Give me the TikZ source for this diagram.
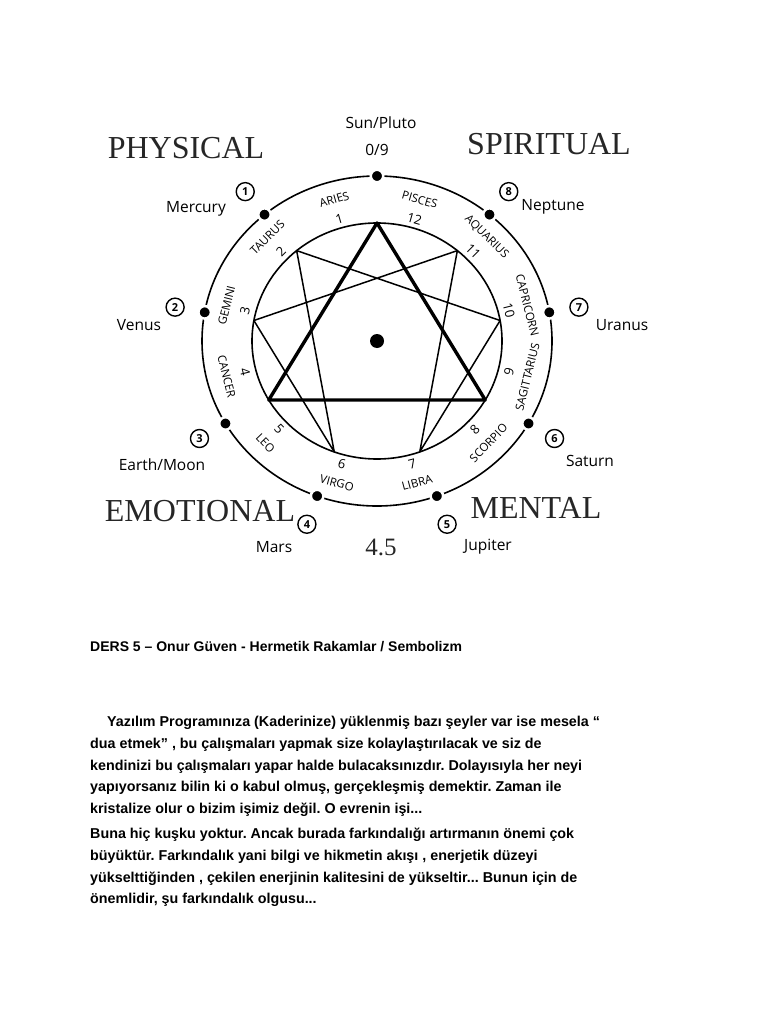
\documentclass[tikz,border=0pt]{standalone}
\usepackage{fontspec}
\setmainfont{Liberation Serif}
\setsansfont{Liberation Sans}
\newfontfamily\handfont{Open Sans}
\usetikzlibrary{positioning}
\frenchspacing

\tikzset{
  ring/.style={line width=1.6},
  dot/.style={circle, fill=black, draw=white, line width=2.5, minimum size=12.5, inner sep=0},
  sign/.style={font=\handfont\fontsize{11.5}{13}\selectfont, inner sep=0},
  house/.style={font=\handfont\fontsize{13}{15}\selectfont, inner sep=0},
  planet/.style={font=\handfont\fontsize{15.5}{17}\selectfont, inner sep=0},
  disc/.style={circle, draw, line width=1.4, minimum size=18, inner sep=0, font=\handfont\bfseries\fontsize{11}{12}\selectfont},
  realm/.style={font=\fontsize{32}{36}\selectfont, text=black!85, inner sep=0},
  para/.style={anchor=base west, inner sep=0, font=\sffamily\bfseries\fontsize{14.3}{16}\selectfont}
}

\begin{document}
\begin{tikzpicture}[x=1pt, y=1pt]
\useasboundingbox (0,0) rectangle (768,-1024);

\begin{scope}[shift={(377,-341)}]
\draw[ring] (0,0) ellipse [x radius=175, y radius=165];
\draw[ring] (0,0) ellipse [x radius=125, y radius=118];
\foreach \k in {0,...,8}
    \coordinate (e\k) at ({90-40*\k}:125 and 118);
\draw[line width=3.4, line join=round] (e0) -- (e3) -- (e6) -- cycle;
\draw[line width=1.5, line join=round] (e1) -- (e4) -- (e2) -- (e8) -- (e5) -- (e7) -- cycle;
\node[dot, minimum size=14, draw=none] (hub) at (0,0) {};

\foreach \sign/\t [count=\i] in {
    ARIES/106, TAURUS/135, GEMINI/166, CANCER/194, LEO/224, VIRGO/255,
    LIBRA/285, SCORPIO/316, SAGITTARIUS/346, CAPRICORN/14, AQUARIUS/45, PISCES/74
} {
    \pgfmathsetmacro{\rot}{\t<180 ? \t-90 : \t+90}
    \node[sign, rotate=\rot] (z\i) at (\t:155 and 147) {\sign};
    \node[house, rotate=\rot] (h\i) at (\t:136 and 127) {\i};
}

\node[dot] (d0) at (90:175 and 165) {};
\node[planet] (p0) at (4,218) {Sun/Pluto};
\node[planet] (n0) at (0,191) {0/9};
\foreach \k/\nm/\px/\py in {
    1/Mercury/-181/132, 2/Venus/-238/16, 3/{Earth/Moon}/-215/-124, 4/Mars/-103/-206,
    5/Jupiter/111/-206, 6/Saturn/213/-120, 7/Uranus/245/16, 8/Neptune/176/134
} {
    \node[dot] (d\k) at ({90+40*\k}:175 and 165) {};
    \node[disc] (c\k) at ({90+40*\k}:205 and 195) {\k};
    \node[planet] (p\k) at (\px,\py) {\nm};
}

\node[realm] (physical) at (-191,193) {PHYSICAL};
\node[realm] (spiritual) at (172,197) {SPIRITUAL};
\node[realm] (emotional) at (-177,-170) {EMOTIONAL};
\node[realm] (mental) at (159,-167) {MENTAL};
\node[realm, font=\fontsize{25}{28}\selectfont] (half) at (4,-206) {4.5};
\end{scope}

\node[para, font=\sffamily\bfseries\fontsize{14}{16}\selectfont] (t0) at (90,-651) {DERS 5 – Onur Güven - Hermetik Rakamlar / Sembolizm};
\node[para] (t1) at (107,-726) {Yazılım Programınıza (Kaderinize) yüklenmiş bazı şeyler var ise mesela “};
\node[para] (t2) at (90,-748) {dua etmek” , bu çalışmaları yapmak size kolaylaştırılacak ve siz de};
\node[para] (t3) at (90,-770) {kendinizi bu çalışmaları yapar halde bulacaksınızdır. Dolayısıyla her neyi};
\node[para] (t4) at (90,-791) {yapıyorsanız bilin ki o kabul olmuş, gerçekleşmiş demektir. Zaman ile};
\node[para] (t5) at (90,-813) {kristalize olur o bizim işimiz değil. O evrenin işi...};
\node[para] (t6) at (90,-838) {Buna hiç kuşku yoktur. Ancak burada farkındalığı artırmanın önemi çok};
\node[para] (t7) at (90,-860) {büyüktür. Farkındalık yani bilgi ve hikmetin akışı , enerjetik düzeyi};
\node[para] (t8) at (90,-882) {yükselttiğinden , çekilen enerjinin kalitesini de yükseltir... Bunun için de};
\node[para] (t9) at (90,-903) {önemlidir, şu farkındalık olgusu...};
\end{tikzpicture}
\end{document}
